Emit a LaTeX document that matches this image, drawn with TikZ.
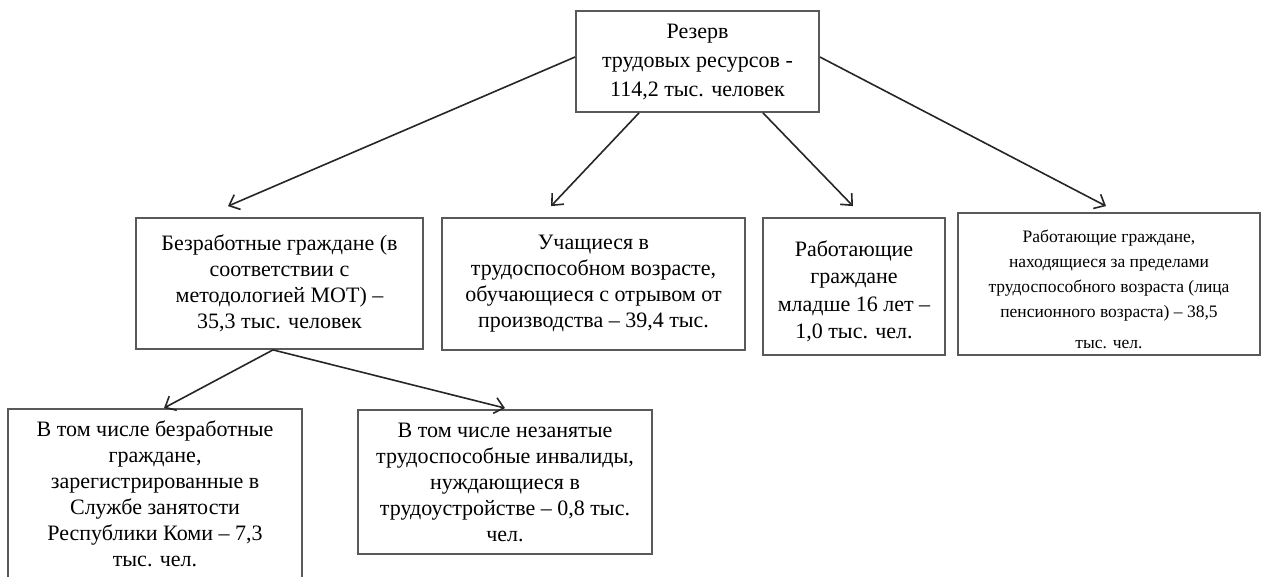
\documentclass[tikz,border=0pt]{standalone}
\usepackage{fontspec}
\setmainfont{Liberation Serif}
\usetikzlibrary{arrows.meta}

\begin{document}
\begin{tikzpicture}[x=1pt,y=-1pt,
    box/.style={draw=black!65,line width=1.8pt,fill=white,align=center,inner sep=2pt,
        font=\fontsize{22}{26}\selectfont},
    arr/.style={-{Straight Barb[length=9pt,width=16pt]},draw=black!85,line width=1.6pt}]
\clip (0,0) rectangle (1284,577);
\fill[white] (0,0) rectangle (1284,577);

\node[box,minimum width=243pt,minimum height=101pt,
    font=\fontsize{22}{29}\selectfont] (rez) at (697.5,61.5)
    {Резерв\\ трудовых ресурсов -\\ 114,2 тыс. человек};

\node[box,minimum width=287pt,minimum height=131pt] (bezr) at (279.5,283.5)
    {Безработные граждане (в\\ соответствии с\\ методологией МОТ) –\\ 35,3 тыс. человек};
\node[box,minimum width=303pt,minimum height=132pt] (uch) at (593.5,284)
    {Учащиеся в\\ трудоспособном возрасте,\\ обучающиеся с отрывом от\\ производства – 39,4 тыс.};
\node[box,minimum width=182pt,minimum height=137pt,text depth=0pt,
    font=\fontsize{22}{27.5}\selectfont] (mlad) at (854,286.5)
    {\rule{0pt}{22pt}Работающие\\ граждане\\ младше 16 лет –\\ 1,0 тыс. чел.};
\node[box,minimum width=302pt,minimum height=142pt,
    font=\fontsize{17.5}{25}\selectfont] (pens) at (1109,284)
    {\rule{0pt}{24pt}Работающие граждане,\\ находящиеся за пределами\\ трудоспособного возраста (лица\\
     пенсионного возраста) – 38,5\\[6pt] тыс. чел.};

\node[box,anchor=north,minimum width=294pt,inner ysep=12pt,text depth=40pt] (reg) at (155,408)
    {В том числе безработные\\ граждане,\\ зарегистрированные в\\ Службе занятости\\
     Республики Коми – 7,3\\ тыс. чел.};
\node[box,minimum width=294pt,minimum height=144pt] (inv) at (505,482)
    {В том числе незанятые\\ трудоспособные инвалиды,\\ нуждающиеся в\\
     трудоустройстве – 0,8 тыс.\\ чел.};

% от резерва
\draw[arr] ([yshift=4.5pt]rez.west) -- ([xshift=-51.5pt,yshift=11pt]bezr.north);
\draw[arr] ([xshift=-58.5pt]rez.south) -- ([xshift=-42.5pt,yshift=11pt]uch.north);
\draw[arr] ([xshift=65.5pt]rez.south) -- ([xshift=-1pt,yshift=11pt]mlad.north);
\draw[arr] ([yshift=4.5pt]rez.east) -- ([xshift=-3pt,yshift=6pt]pens.north);

% от безработных
\draw[arr] ([xshift=-6.5pt]bezr.south) -- ([xshift=9pt]reg.north);
\draw[arr] ([xshift=-6.5pt]bezr.south) -- ([yshift=1pt]inv.north);
\end{tikzpicture}
\end{document}
